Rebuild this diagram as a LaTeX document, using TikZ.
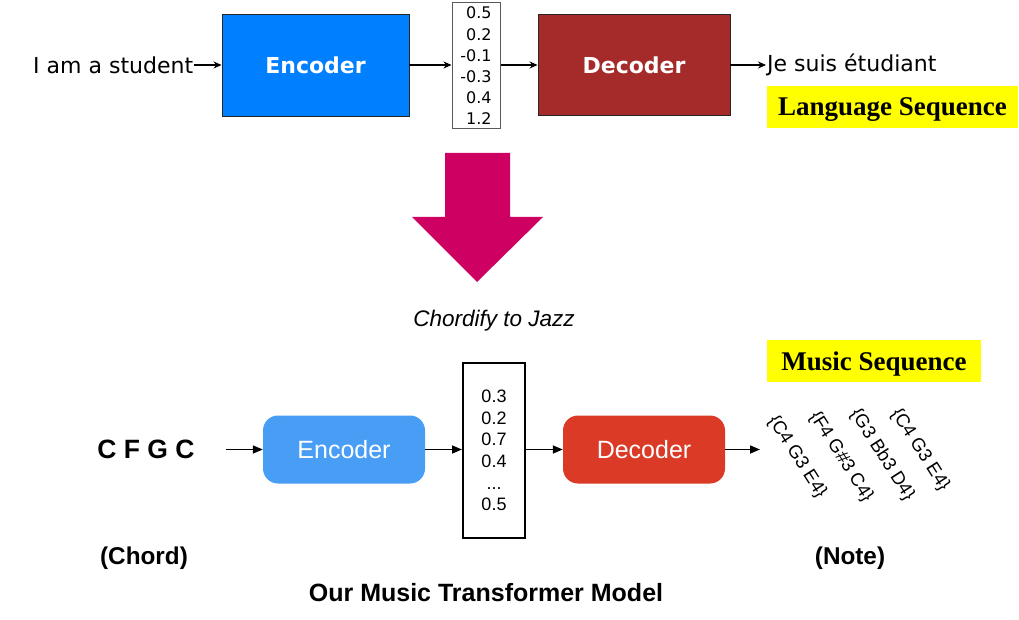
\documentclass[tikz,border=0pt]{standalone}
\usepackage{fontspec}
\setmainfont{DejaVu Sans}
\newfontfamily\arialf{Liberation Sans}
\newfontfamily\timesf{Liberation Serif}
\usetikzlibrary{arrows.meta}
\definecolor{encA}{RGB}{0,128,255}
\definecolor{decA}{RGB}{165,42,42}
\definecolor{encB}{RGB}{72,158,245}
\definecolor{decB}{RGB}{218,58,38}
\definecolor{bigarrow}{RGB}{206,0,98}
\definecolor{hiyellow}{RGB}{255,255,0}
\begin{document}
\begin{tikzpicture}[x=1pt,y=-1pt,
  toptxt/.style={inner sep=1pt,font=\fontsize{22}{26}\selectfont},
  topbox/.style={draw=black!85,line width=0.9pt,inner sep=0pt,text=white,
    font=\fontsize{22}{26}\selectfont\bfseries},
  vecA/.style={draw=black!65,line width=1pt,inner sep=0pt,align=right,
    minimum width=48pt,minimum height=126pt,font=\fontsize{16}{21.2}\selectfont},
  arrA/.style={-{Stealth[length=8pt,width=7pt]},line width=1.2pt},
  hilite/.style={fill=hiyellow,inner sep=0pt,minimum height=42pt,text depth=0pt,
    font=\timesf\fontsize{27}{30}\selectfont\bfseries},
  botbox/.style={rounded corners=15pt,inner sep=0pt,minimum width=162pt,
    minimum height=68pt,text=white,font=\arialf\fontsize{25}{30}\selectfont},
  vecB/.style={draw=black,line width=2pt,inner sep=0pt,align=center,
    minimum width=62pt,minimum height=175pt,font=\arialf\fontsize{18}{21.6}\selectfont},
  arrB/.style={-{Triangle[length=10pt,width=8pt]},line width=1.5pt},
  boldlbl/.style={inner sep=0pt,font=\arialf\fontsize{24.3}{28}\selectfont\bfseries},
  notes/.style={inner sep=0pt,rotate=-57.5,font=\arialf\fontsize{18.5}{22}\selectfont}
]
\useasboundingbox (0,0) rectangle (1019,620);
\fill[white] (0,0) rectangle (1019,620);

% ---- top: language sequence ----
\node[toptxt,anchor=west] (in1) at (32,65) {I am a student};
\node[topbox,fill=encA,minimum width=187pt,minimum height=102pt] (enc1) at (315.5,65) {Encoder};
\node[vecA] (vec1) at (476,66) {0.5\\0.2\\-0.1\\-0.3\\0.4\\1.2};
\node[topbox,fill=decA,minimum width=192pt,minimum height=101pt] (dec1) at (634,65) {Decoder};
\node[toptxt,anchor=west] (out1) at (766,65) {Je suis étudiant};
\draw[arrA] (in1) -- (enc1);
\draw[arrA] (enc1) -- (vec1.west |- enc1);
\draw[arrA] (vec1.east |- enc1) -- (dec1);
\draw[arrA] (dec1) -- (out1);
\node[hilite,minimum width=251pt] (lang) at (892.5,107) {Language Sequence};

% ---- big arrow ----
\fill[bigarrow] (445,153) -- (510,153) -- (510,217) -- (543,217) -- (477,282)
  -- (412,217) -- (445,217) -- cycle;

\node[inner sep=0pt,font=\arialf\fontsize{22.5}{26}\selectfont\itshape] (title1) at (494,321) {Chordify to Jazz};
\node[hilite,minimum width=214pt] (music) at (874,361) {Music Sequence};

% ---- bottom: music sequence ----
\node[inner sep=0pt,font=\arialf\fontsize{26.5}{30}\selectfont\bfseries] (chords) at (146,449.5) {C F G C};
\node[botbox,fill=encB] (enc2) at (344,449.5) {Encoder};
\node[vecB] (vec2) at (494,450.5) {0.3\\0.2\\0.7\\0.4\\...\\0.5};
\node[botbox,fill=decB] (dec2) at (644,449.5) {Decoder};
\coordinate (nend) at (760,449.5);
\draw[arrB,shorten <=31pt] (chords) -- (enc2);
\draw[arrB] (enc2) -- (vec2.west |- enc2);
\draw[arrB] (vec2.east |- dec2) -- (dec2);
\draw[arrB] (dec2) -- (nend);

\node[notes] (n1) at (797,457) {\{C4 G3 E4\}};
\node[notes] (n2) at (841,457) {\{F4 G\#3 C4\}};
\node[notes] (n3) at (882,455) {\{G3 Bb3 D4\}};
\node[notes] (n4) at (920,450) {\{C4 G3 E4\}};

\node[boldlbl] (chordlbl) at (144,558) {(Chord)};
\node[boldlbl] (notelbl) at (850,558) {(Note)};
\node[inner sep=0pt,font=\arialf\fontsize{25}{30}\selectfont\bfseries] (model) at (486,593) {Our Music Transformer Model};
\end{tikzpicture}
\end{document}
